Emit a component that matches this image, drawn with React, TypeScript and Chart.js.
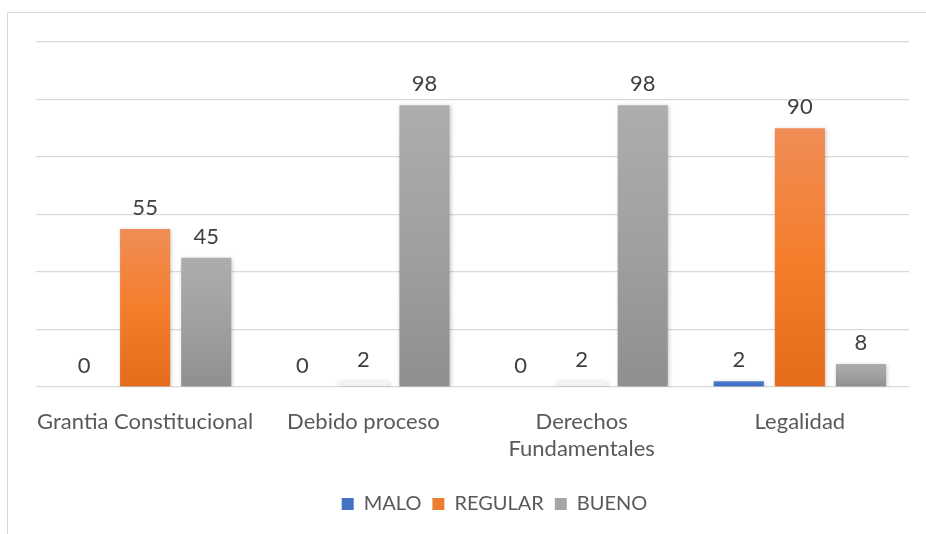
import React, { useEffect, useRef } from "react";
import { Chart, registerables } from "chart.js";

Chart.register(...registerables);

const categories: (string | string[])[] = [
  "Grantia Constitucional",
  "Debido proceso",
  ["Derechos", "Fundamentales"],
  "Legalidad",
];
const seriesNames = ["MALO", "REGULAR", "BUENO"];
const malo = [0, 0, 0, 2];
const regular = [55, 2, 2, 90];
const bueno = [45, 98, 98, 8];
const yMax = 120;
const yStep = 20;

// gradient stops [top, middle, bottom] per series; faint entries for nearly invisible bars
const maloColors = [["#4f7fd0", "#4472c4", "#3a68bd"]];
const regularColors = [
  ["#f08d56", "#f47e2c", "#e46c1a"],
  ["#f6f6f6", "#f3f3f3", "#eeeeee"],
  ["#f6f6f6", "#f3f3f3", "#eeeeee"],
  ["#f08d56", "#f47e2c", "#e46c1a"],
];
const buenoColors = [["#adadad", "#a0a0a0", "#8f8f8f"]];

const FONT = "Lato, 'Open Sans', sans-serif";
const FS = 22;
const LEGEND_FS = 20;

function gradientFor(stops: string[][]) {
  return (ctx: any) => {
    const chart = ctx.chart;
    const area = chart.chartArea;
    const s = stops[Math.min(ctx.dataIndex ?? 0, stops.length - 1)] || stops[0];
    if (!area || ctx.type !== "data") return s[1];
    const y = chart.scales.y;
    const top = y.getPixelForValue(ctx.raw);
    const bottom = y.getPixelForValue(0);
    if (Math.abs(bottom - top) < 1) return s[2];
    const g = chart.ctx.createLinearGradient(0, top, 0, bottom);
    g.addColorStop(0, s[0]);
    g.addColorStop(0.5, s[1]);
    g.addColorStop(1, s[2]);
    return g;
  };
}

const valueLabels = {
  id: "valueLabels",
  afterDatasetsDraw(chart: any) {
    const c = chart.ctx;
    c.save();
    c.font = `${FS}px ${FONT}`;
    c.fillStyle = "#404040";
    c.textAlign = "center";
    c.textBaseline = "middle";
    chart.data.datasets.forEach((ds: any, i: number) => {
      const meta = chart.getDatasetMeta(i);
      meta.data.forEach((el: any, j: number) => {
        c.fillText(String(ds.data[j]), el.x, el.y - 21);
      });
    });
    c.restore();
  },
};

const barShadow = {
  id: "barShadow",
  beforeDatasetsDraw(chart: any) {
    const c = chart.ctx;
    c.save();
    c.shadowColor = "rgba(0,0,0,0.22)";
    c.shadowBlur = 4;
    c.shadowOffsetX = 1;
    c.shadowOffsetY = 1;
  },
  afterDatasetsDraw(chart: any) {
    chart.ctx.restore();
  },
};

// the reference legend sits a little right of the plot centre
const legendShift = {
  id: "legendShift",
  afterLayout(chart: any) {
    const lg = chart.legend;
    if (lg) {
      lg.left += 22;
      lg.right += 22;
    }
  },
};

export default function App() {
  const ref = useRef<HTMLCanvasElement | null>(null);
  useEffect(() => {
    if (!ref.current) return;
    const chart = new Chart(ref.current, {
      type: "bar",
      data: {
        labels: categories,
        datasets: [
          {
            label: seriesNames[0],
            data: malo,
            backgroundColor: gradientFor(maloColors),
          },
          {
            label: seriesNames[1],
            data: regular,
            backgroundColor: gradientFor(regularColors),
          },
          {
            label: seriesNames[2],
            data: bueno,
            backgroundColor: gradientFor(buenoColors),
          },
        ],
      },
      options: {
        animation: false,
        responsive: false,
        devicePixelRatio: 1,
        datasets: {
          bar: { categoryPercentage: 0.84, barPercentage: 0.82 },
        },
        layout: { padding: { left: 36, right: 17, top: 42, bottom: 10 } },
        scales: {
          x: {
            grid: { display: false, drawTicks: false },
            border: { display: false },
            ticks: {
              color: "#595959",
              font: { family: FONT, size: FS, lineHeight: 1.23 },
              padding: 21,
              maxRotation: 0,
              autoSkip: false,
            },
            afterFit: (s: any) => {
              s.height = 96;
            },
          },
          y: {
            min: 0,
            max: yMax,
            ticks: { display: false, stepSize: yStep },
            grid: { color: "#d9d9d9", lineWidth: 1.3, drawTicks: false },
            border: { display: false },
          },
        },
        plugins: {
          legend: {
            position: "bottom",
            labels: {
              color: "#595959",
              font: { family: FONT, size: LEGEND_FS },
              boxWidth: 12,
              boxHeight: 12,
              padding: 11,
              generateLabels: (chart: any) => {
                const cols = ["#4472c4", "#ed7d31", "#a5a5a5"];
                return chart.data.datasets.map((d: any, i: number) => ({
                  text: d.label,
                  fillStyle: cols[i],
                  strokeStyle: cols[i],
                  lineWidth: 0,
                  hidden: false,
                  datasetIndex: i,
                  fontColor: "#595959",
                }));
              },
            },
          },
          tooltip: { enabled: false },
        },
      },
      plugins: [barShadow, valueLabels, legendShift],
    });
    return () => chart.destroy();
  }, []);

  return (
    <div
      style={{
        position: "absolute",
        left: 0,
        top: 0,
        width: 926,
        height: 534,
        overflow: "hidden",
        background: "#ffffff",
      }}
    >
      <div
        style={{
          position: "absolute",
          left: 7,
          top: 12,
          width: 960,
          height: 600,
          borderLeft: "1px solid #d9d9d9",
          borderTop: "1px solid #d9d9d9",
        }}
      />
      <canvas
        ref={ref}
        width={926}
        height={534}
        style={{ position: "absolute", left: 0, top: 0, width: 926, height: 534 }}
      />
    </div>
  );
}
